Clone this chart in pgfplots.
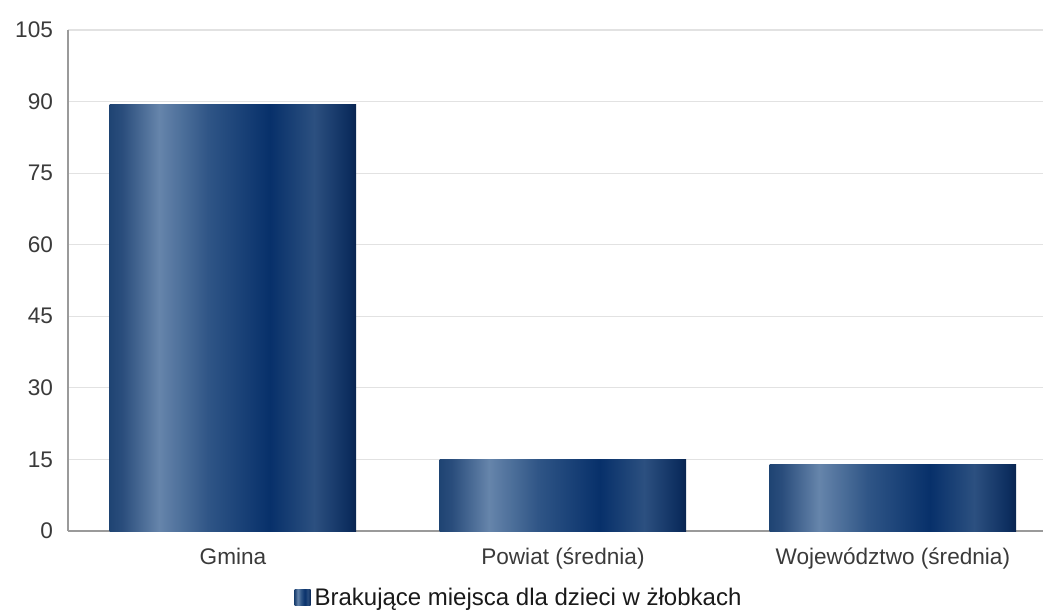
\documentclass[border=0pt]{standalone}
\usepackage{fontspec}
\setmainfont{Liberation Sans}
\usepackage{pgfplots}
\pgfplotsset{compat=1.18}

\definecolor{bs0}{RGB}{31,68,115}
\definecolor{bs1}{RGB}{42,77,124}
\definecolor{bs2}{RGB}{102,133,171}
\definecolor{bs3}{RGB}{47,85,134}
\definecolor{bs4}{RGB}{7,48,106}
\definecolor{bs5}{RGB}{44,80,128}
\definecolor{bs6}{RGB}{12,45,94}
\definecolor{bs7}{RGB}{10,37,80}

% cylinder-like horizontal shading of the bars (change happens between 25bp and 75bp)
\pgfdeclarehorizontalshading{barshade}{100bp}{%
  color(0bp)=(bs0); color(25bp)=(bs0); color(27.5bp)=(bs1);
  color(35bp)=(bs2); color(45bp)=(bs3); color(57.5bp)=(bs4);
  color(66.5bp)=(bs5); color(73.5bp)=(bs6); color(75bp)=(bs7);
  color(100bp)=(bs7)}

\definecolor{gridgray}{HTML}{E2E2E2}
\definecolor{axisgray}{HTML}{9A9A9A}
\definecolor{ticktext}{HTML}{3A3A3A}

\begin{document}
\begin{tikzpicture}
\begin{axis}[
    scale only axis,
    width=487.5pt, height=250.5pt,
    xmin=-0.5, xmax=2.455,
    ymin=0, ymax=105,
    ytick={0,15,30,45,60,75,90,105},
    xtick={0,1,2},
    xticklabels={Gmina, Powiat (średnia), Województwo (średnia)},
    axis x line*=bottom, axis y line*=left,
    axis line style={-, axisgray, line width=0.6pt},
    major tick length=0pt,
    ymajorgrids=true,
    grid style={gridgray, line width=0.6pt},
    tick label style={font=\fontsize{11.3pt}{13pt}\selectfont, text=ticktext},
    yticklabel style={xshift=-4pt},
    xticklabel style={yshift=-5pt},
    /pgf/number format/assume math mode=true,
    ybar, bar width=0.747, bar shift=0pt,
    legend style={at={(rel axis cs:0.4636,-0.1337)}, anchor=center, draw=none,
        font=\fontsize{12pt}{14pt}\selectfont, text=black!90,
        inner sep=0pt},
    legend image code/.code={\shade[shading=barshade] (-4pt,-4pt) rectangle (4pt,4pt);},
]
\addplot[draw=none, shading=barshade] coordinates {(0,89.3)};
\addlegendentry{Brakujące miejsca dla dzieci w żłobkach}
\addplot[draw=none, shading=barshade, forget plot] coordinates {(1,15)};
\addplot[draw=none, shading=barshade, forget plot] coordinates {(2,14)};
\end{axis}
\pgfresetboundingbox
\path ([shift={(-34pt,-40.5pt)}]current axis.south west) rectangle ([shift={(0pt,15pt)}]current axis.north east);
\end{tikzpicture}
\end{document}
